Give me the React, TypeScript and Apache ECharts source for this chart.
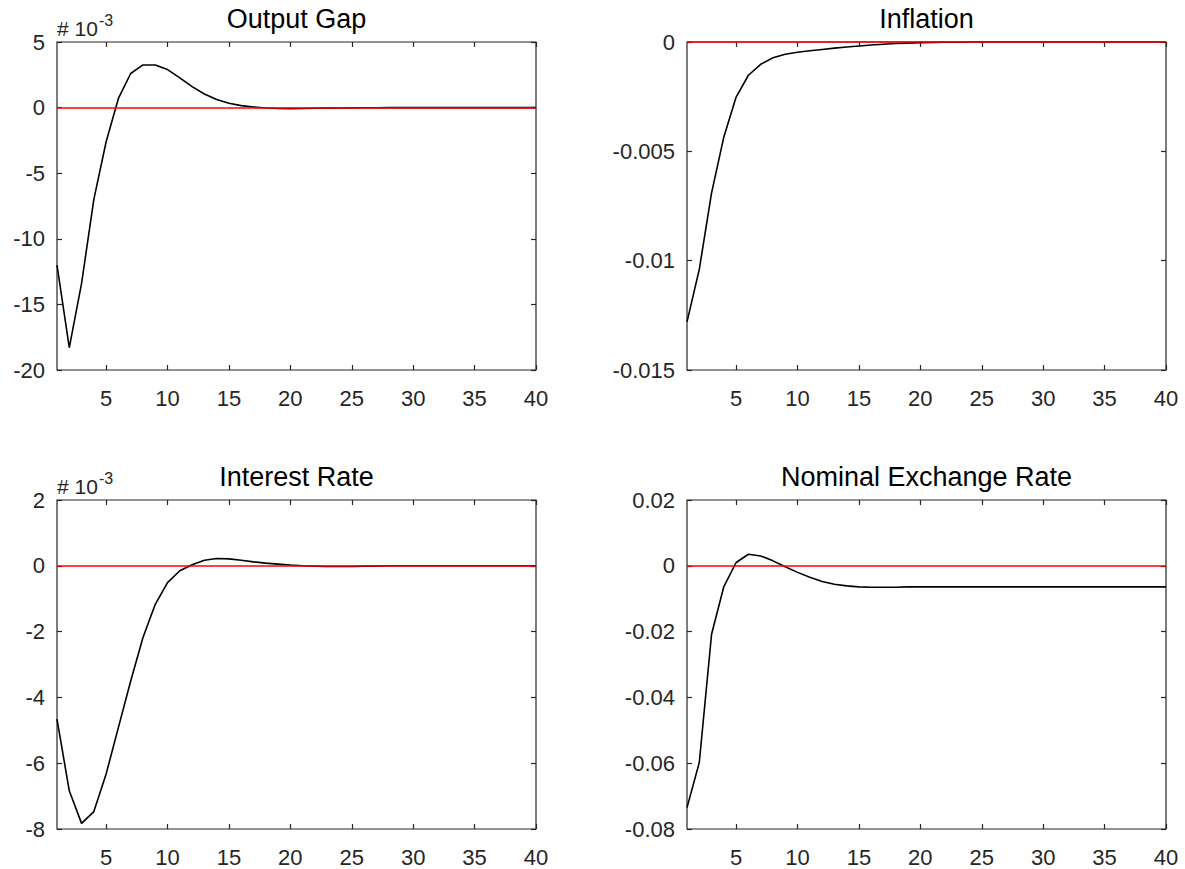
import React, { useEffect, useRef } from "react";
import * as echarts from "echarts";

// Horizon (periods)
const periods = [1, 2, 3, 4, 5, 6, 7, 8, 9, 10, 11, 12, 13, 14, 15, 16, 17, 18, 19, 20,
  21, 22, 23, 24, 25, 26, 27, 28, 29, 30, 31, 32, 33, 34, 35, 36, 37, 38, 39, 40];
const xTickValues = [5, 10, 15, 20, 25, 30, 35, 40];

// Output gap, in units of 10^-3
const outputGap = [-12.0, -18.3, -13.4, -7.0, -2.6, 0.7, 2.6, 3.25, 3.25, 2.9,
  2.26, 1.6, 1.04, 0.62, 0.33, 0.15, 0.05, -0.03, -0.07, -0.08,
  -0.07, -0.05, -0.04, -0.03, -0.02, -0.01, -0.01, 0, 0, 0,
  0, 0, 0, 0, 0, 0, 0, 0, 0, 0];

// Inflation
const inflation = [-0.0128, -0.0104, -0.0069, -0.00434, -0.00252, -0.00152, -0.00102, -0.00072, -0.00056, -0.00047,
  -0.0004, -0.00034, -0.00028, -0.00023, -0.00018, -0.00014, -0.0001, -0.00007, -0.00005, -0.00003,
  -0.00002, -0.00001, -0.00001, 0, 0, 0, 0, 0, 0, 0,
  0, 0, 0, 0, 0, 0, 0, 0, 0, 0];

// Interest rate, in units of 10^-3
const interestRate = [-4.66, -6.84, -7.83, -7.47, -6.33, -4.91, -3.5, -2.18, -1.17, -0.51,
  -0.15, 0.03, 0.17, 0.22, 0.21, 0.17, 0.12, 0.08, 0.05, 0.02,
  0.0, -0.01, -0.02, -0.02, -0.02, -0.01, -0.01, 0, 0, 0,
  0, 0, 0, 0, 0, 0, 0, 0, 0, 0];

// Nominal exchange rate
const exchangeRate = [-0.0735, -0.0598, -0.0208, -0.0063, 0.001, 0.0035, 0.003, 0.0015, -0.0003, -0.002,
  -0.0035, -0.0048, -0.0056, -0.0061, -0.0064, -0.0065, -0.0065, -0.0065, -0.0064, -0.0064,
  -0.0064, -0.0064, -0.0064, -0.0064, -0.0064, -0.0064, -0.0064, -0.0064, -0.0064, -0.0064,
  -0.0064, -0.0064, -0.0064, -0.0064, -0.0064, -0.0064, -0.0064, -0.0064, -0.0064, -0.0064];

const titles = ["Output Gap", "Inflation", "Interest Rate", "Nominal Exchange Rate"];
const seriesValues = [outputGap, inflation, interestRate, exchangeRate];
const yMins = [-20, -0.015, -8, -0.08];
const yMaxs = [5, 0, 2, 0.02];
const yIntervals = [5, 0.005, 2, 0.02];
const hasScaleLabel = [true, false, true, false];

const FONT = "'Liberation Sans', Arial, Helvetica, sans-serif";
const AXIS_COLOR = "#262626";

const grids = [
  { left: 57, top: 42, width: 479, height: 328 },
  { left: 687, top: 42, width: 479, height: 328 },
  { left: 57, top: 500, width: 479, height: 329 },
  { left: 687, top: 500, width: 479, height: 329 },
];

export default function App() {
  const ref = useRef<HTMLDivElement>(null);

  useEffect(() => {
    if (!ref.current) return;
    const chart = echarts.init(ref.current, undefined, { renderer: "svg" });

    const tick = { show: true, inside: true, length: 5, lineStyle: { color: AXIS_COLOR, width: 1.2 } };
    const noLine = { show: false, onZero: false };

    const xAxis: any[] = [];
    const yAxis: any[] = [];
    const series: any[] = [];
    const graphic: any[] = [];

    grids.forEach((g, i) => {
      xAxis.push({
        type: "value", gridIndex: i, position: "bottom", min: 1, max: 40,
        axisLine: noLine,
        axisTick: { ...tick, customValues: xTickValues },
        axisLabel: { show: true, customValues: xTickValues, margin: 17, fontSize: 22, color: AXIS_COLOR, fontFamily: FONT },
        splitLine: { show: false },
      });
      xAxis.push({
        type: "value", gridIndex: i, position: "top", min: 1, max: 40,
        axisLine: noLine,
        axisTick: { ...tick, customValues: xTickValues },
        axisLabel: { show: false },
        splitLine: { show: false },
      });
      yAxis.push({
        type: "value", gridIndex: i, position: "left", min: yMins[i], max: yMaxs[i], interval: yIntervals[i],
        axisLine: noLine,
        axisTick: tick,
        axisLabel: { show: true, margin: 12, fontSize: 22, color: AXIS_COLOR, fontFamily: FONT },
        splitLine: { show: false },
      });
      yAxis.push({
        type: "value", gridIndex: i, position: "right", min: yMins[i], max: yMaxs[i], interval: yIntervals[i],
        axisLine: noLine,
        axisTick: tick,
        axisLabel: { show: false },
        splitLine: { show: false },
      });
      series.push({
        type: "line",
        xAxisIndex: i * 2,
        yAxisIndex: i * 2,
        data: periods.map((p, k) => [p, seriesValues[i][k]]),
        showSymbol: false,
        symbol: "none",
        lineStyle: { color: "#000000", width: 1.6 },
        z: 2,
        markLine: {
          silent: true,
          symbol: "none",
          label: { show: false },
          lineStyle: { color: "#ff0000", type: "solid", width: 1.5 },
          data: [{ yAxis: 0 }],
        },
      });
      graphic.push({
        type: "text",
        x: g.left + g.width / 2,
        y: g.top - 23,
        style: {
          text: titles[i], fontSize: 27, fontFamily: FONT, fill: "#000000",
          textAlign: "center", textVerticalAlign: "middle",
        },
      });
      if (hasScaleLabel[i]) {
        graphic.push({
          type: "text",
          x: g.left,
          y: g.top - 14,
          style: {
            text: "# 10", fontSize: 21, fontFamily: FONT, fill: AXIS_COLOR,
            textAlign: "left", textVerticalAlign: "middle",
          },
        });
        graphic.push({
          type: "text",
          x: g.left + 42,
          y: g.top - 22,
          style: {
            text: "-3", fontSize: 16, fontFamily: FONT, fill: AXIS_COLOR,
            textAlign: "left", textVerticalAlign: "middle",
          },
        });
      }
    });

    chart.setOption({
      animation: false,
      backgroundColor: "#ffffff",
      grid: grids.map((g) => ({
        ...g, show: true, borderColor: AXIS_COLOR, borderWidth: 1.2, backgroundColor: "transparent",
        containLabel: false,
      })),
      xAxis,
      yAxis,
      series,
      graphic,
    });

    return () => chart.dispose();
  }, []);

  return (
    <div
      ref={ref}
      style={{ position: "absolute", left: 0, top: 0, width: 1185, height: 869, background: "#fff" }}
    />
  );
}
